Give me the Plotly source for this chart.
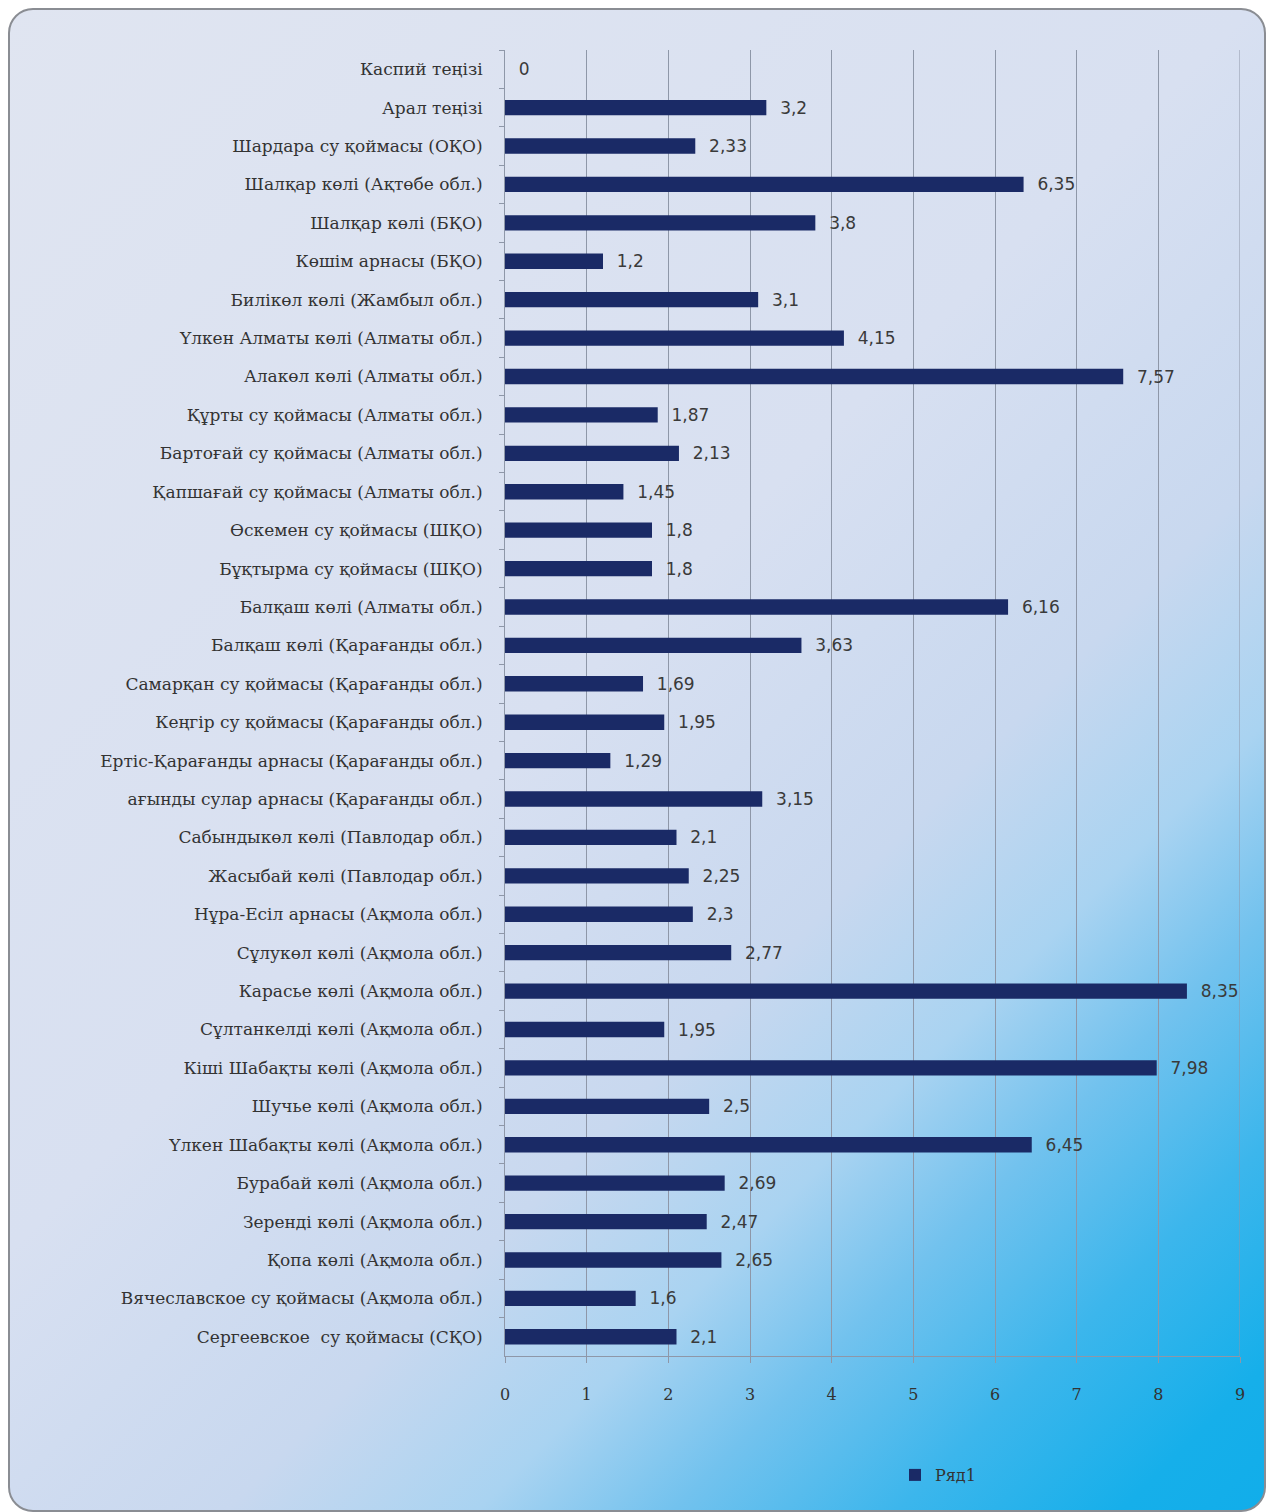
import base64
import plotly.graph_objects as go

categories = [
    "Каспий теңізі",
    "Арал теңізі",
    "Шардара су қоймасы (ОҚО)",
    "Шалқар көлі (Ақтөбе обл.)",
    "Шалқар көлі (БҚО)",
    "Көшім арнасы (БҚО)",
    "Билікөл көлі (Жамбыл обл.)",
    "Үлкен Алматы көлі (Алматы обл.)",
    "Алакөл көлі (Алматы обл.)",
    "Құрты су қоймасы (Алматы обл.)",
    "Бартоғай су қоймасы (Алматы обл.)",
    "Қапшағай су қоймасы (Алматы обл.)",
    "Өскемен су қоймасы (ШҚО)",
    "Бұқтырма су қоймасы (ШҚО)",
    "Балқаш көлі (Алматы обл.)",
    "Балқаш көлі (Қарағанды обл.)",
    "Самарқан су қоймасы (Қарағанды обл.)",
    "Кеңгір су қоймасы (Қарағанды обл.)",
    "Ертіс-Қарағанды арнасы (Қарағанды обл.)",
    "ағынды сулар арнасы (Қарағанды обл.)",
    "Сабындыкөл көлі (Павлодар обл.)",
    "Жасыбай көлі (Павлодар обл.)",
    "Нұра-Есіл арнасы (Ақмола обл.)",
    "Сұлукөл көлі (Ақмола обл.)",
    "Карасье көлі (Ақмола обл.)",
    "Сұлтанкелді көлі (Ақмола обл.)",
    "Кіші Шабақты көлі (Ақмола обл.)",
    "Шучье көлі (Ақмола обл.)",
    "Үлкен Шабақты көлі (Ақмола обл.)",
    "Бурабай көлі (Ақмола обл.)",
    "Зеренді көлі (Ақмола обл.)",
    "Қопа көлі (Ақмола обл.)",
    "Вячеславское су қоймасы (Ақмола обл.)",
    "Сергеевское  су қоймасы (СҚО)",
]

values = [0, 3.2, 2.33, 6.35, 3.8, 1.2, 3.1, 4.15, 7.57, 1.87, 2.13, 1.45, 1.8, 1.8,
          6.16, 3.63, 1.69, 1.95, 1.29, 3.15, 2.1, 2.25, 2.3, 2.77, 8.35, 1.95, 7.98,
          2.5, 6.45, 2.69, 2.47, 2.65, 1.6, 2.1]

x_ticks = [0, 1, 2, 3, 4, 5, 6, 7, 8, 9]
series_name = "Ряд1"

value_labels = [f"{v:g}".replace(".", ",") for v in values]

# the page body has an 8px margin, so the figure is sized to fit the window
W, H = 1267, 1504
ML, MR, MT, MB = 497, 35, 42, 156
PW, PH = W - ML - MR, H - MT - MB

svg = f'''<svg xmlns="http://www.w3.org/2000/svg" width="{W}" height="{H}" viewBox="0 0 {W} {H}">
<defs>
<linearGradient id="g" gradientUnits="userSpaceOnUse" x1="-8" y1="-8" x2="1392" y2="1392">
<stop offset="0" stop-color="#e0e5f1"/>
<stop offset="0.45" stop-color="#d8e0f1"/>
<stop offset="0.62" stop-color="#c8d8ef"/>
<stop offset="0.71" stop-color="#a9d3f1"/>
<stop offset="0.78" stop-color="#72c2ee"/>
<stop offset="0.86" stop-color="#3cb6ec"/>
<stop offset="0.94" stop-color="#16afea"/>
<stop offset="1" stop-color="#10adea"/>
</linearGradient>
</defs>
<rect x="0" y="0" width="{W}" height="{H}" fill="#ffffff"/>
<rect x="1" y="1" width="1256" height="1502" rx="24" ry="24" fill="url(#g)" stroke="#8a8d93" stroke-width="2"/>
</svg>'''
bg_uri = "data:image/svg+xml;base64," + base64.b64encode(svg.encode("utf-8")).decode("ascii")

fig = go.Figure()
fig.add_trace(go.Bar(
    y=categories,
    x=values,
    orientation="h",
    name=series_name,
    marker=dict(color="#1a2a66", line=dict(color="#0e1a48", width=0)),
    text=value_labels,
    texttemplate="\u00a0\u00a0%{text}",
    textposition="outside",
    constraintext="none",
    textfont=dict(family="DejaVu Sans", size=17, color="#3a3a3a"),
    cliponaxis=False,
    showlegend=True,
))

fig.update_layout(
    width=W,
    height=H,
    autosize=False,
    margin=dict(l=ML, r=MR, t=MT, b=MB),
    paper_bgcolor="#ffffff",
    plot_bgcolor="rgba(255,255,255,0.28)",
    bargap=0.6,
    font=dict(family="DejaVu Serif", color="#333333"),
    images=[dict(
        source=bg_uri, xref="paper", yref="paper",
        x=-ML / PW, y=1 + MT / PH, sizex=W / PW, sizey=H / PH,
        xanchor="left", yanchor="top", sizing="stretch", layer="below",
    )],
    xaxis=dict(
        range=[0, 9],
        tickvals=x_ticks,
        ticktext=[str(t) for t in x_ticks],
        showgrid=True,
        gridcolor="#8e97a8",
        gridwidth=1,
        zeroline=False,
        showline=True,
        linecolor="#8e97a8",
        linewidth=1,
        ticks="outside",
        ticklen=6,
        tickcolor="#8e97a8",
        ticklabelstandoff=18,
        tickfont=dict(family="DejaVu Serif", size=16, color="#333333"),
        fixedrange=True,
    ),
    yaxis=dict(
        categoryorder="array",
        categoryarray=categories,
        autorange="reversed",
        showgrid=False,
        zeroline=False,
        showline=True,
        linecolor="#8e97a8",
        linewidth=1,
        ticks="outside",
        tickson="boundaries",
        ticklen=5,
        tickcolor="#8e97a8",
        ticklabelstandoff=18,
        tickfont=dict(family="DejaVu Serif", size=17, color="#333333"),
        fixedrange=True,
    ),
    legend=dict(
        x=(887 - ML) / PW, y=-(1467 - (MT + PH)) / PH,
        xanchor="left", yanchor="middle",
        bgcolor="rgba(0,0,0,0)",
        font=dict(family="DejaVu Serif", size=16, color="#333333"),
        itemwidth=30,
    ),
)

# extra vertical gridline at the right edge (x = 9)
fig.add_shape(type="line", xref="x", yref="paper", x0=9, x1=9, y0=0, y1=1,
              line=dict(color="#8e97a8", width=1), layer="below")

fig.write_html("out.html")
